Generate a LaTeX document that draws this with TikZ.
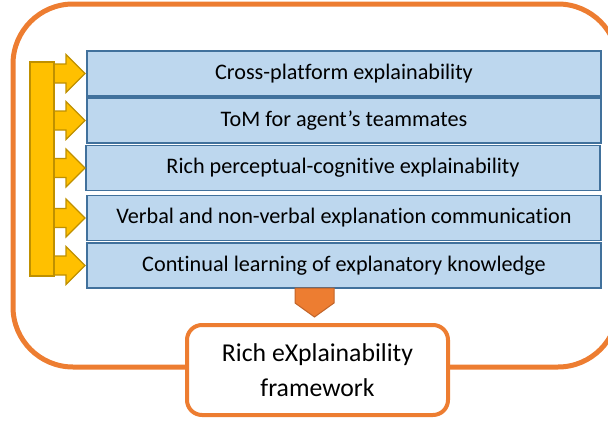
\documentclass[tikz,border=0pt]{standalone}
\usepackage{fontspec}
\setmainfont{Carlito}[Ligatures=NoCommon]
\usetikzlibrary{calc}
\definecolor{borange}{HTML}{ED7D31}
\definecolor{dorange}{HTML}{C0642A}
\definecolor{bfill}{HTML}{BDD7EE}
\definecolor{bline}{HTML}{41719C}
\definecolor{yfill}{HTML}{FFC000}
\definecolor{yline}{HTML}{BF9000}
\tikzset{
  item/.style={draw=bline, fill=bfill, line width=1.5pt, minimum width=514pt, minimum height=45pt, inner sep=0pt, font=\fontsize{22.2}{26}\selectfont},
  finalbox/.style={draw=borange, fill=white, line width=4pt, rounded corners=15pt, minimum width=261pt, minimum height=90pt, align=center, font=\fontsize{25.7}{35}\selectfont},
  yarrowstyle/.style={fill=yfill, draw=yline, line width=1.2pt, line join=miter},
  pics/yarrow/.style={code={
    \draw[yarrowstyle] (-35,-9.5) -- (-21,-9.5) -- (-21,-19) -- (-2,0) -- (-21,19) -- (-21,9.5) -- (-35,9.5) -- cycle;
  }}
}
\begin{document}
\begin{tikzpicture}[x=1pt,y=-1pt]
\useasboundingbox (0,0) rectangle (608,423);
\clip (0,0) rectangle (608,423);
\draw[borange, line width=5pt, rounded corners=60pt] (13,4) rectangle (618,367);
\node[item] (b1) at (344,73.5) {Cross-platform explainability};
\node[item] (b2) at (344,120.5) {ToM for agent’s teammates};
\node[item] (b3) at (343,168) {Rich perceptual-cognitive explainability};
\node[item] (b4) at (344,218) {Verbal and non-verbal explanation communication};
\node[item] (b5) at (344,265.5) {Continual learning of explanatory knowledge};
\foreach \b in {b1,b2,b3,b4,b5} { \pic at (\b.west -| 87,0) {yarrow}; }
\node[fill=yfill, draw=yline, line width=1.2pt, minimum width=24pt, minimum height=214pt, inner sep=0pt] (bar) at (42,169) {};
\node[finalbox] (f) at (317.5,370) {Rich eXplainability\\framework};
\draw[fill=borange, draw=dorange, line width=1pt] ($(f.north)+(-22.5,-35)$) -- ++(39,0) -- ++(0,15) -- ++(-19.5,14) -- ++(-19.5,-14) -- cycle;
\end{tikzpicture}
\end{document}
